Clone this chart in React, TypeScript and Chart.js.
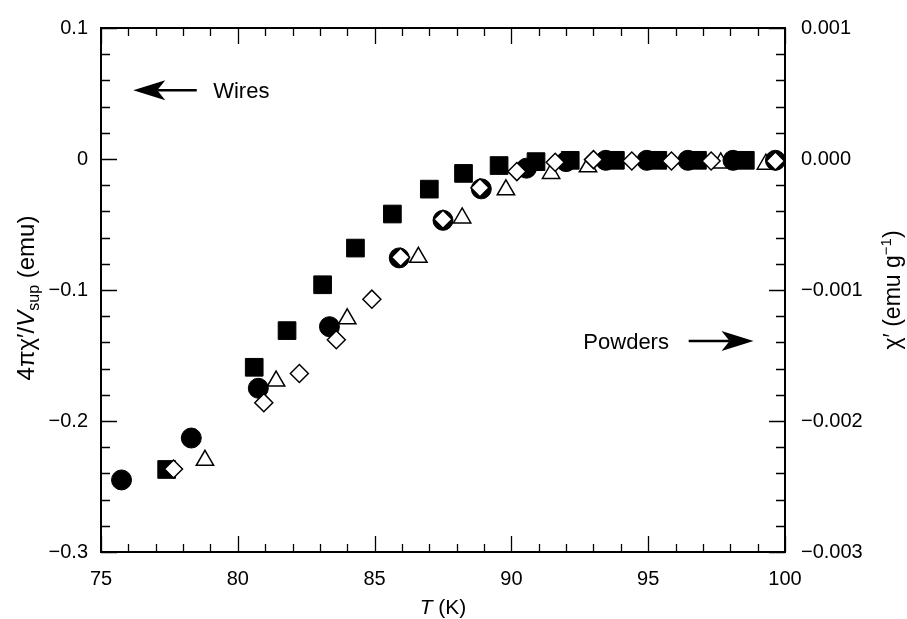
import React, { useEffect, useRef } from "react";
import { Chart, registerables } from "chart.js";

Chart.register(...registerables);

// ---- Data (T in K, 4πχ'/V_sup in emu) ----
const squaresT = [77.4, 80.6, 81.8, 83.1, 84.3, 85.65, 87.0, 88.25, 89.55, 90.9, 92.15, 93.8, 95.35, 96.8, 98.55];
const squaresY = [-0.237, -0.159, -0.131, -0.096, -0.068, -0.042, -0.023, -0.011, -0.005, -0.002, -0.001, -0.001, -0.001, -0.001, -0.001];

const circlesT = [75.75, 78.3, 80.75, 83.35, 85.9, 87.5, 88.9, 90.55, 92.0, 93.45, 94.95, 96.45, 98.1, 99.65];
const circlesY = [-0.245, -0.213, -0.175, -0.128, -0.0755, -0.0468, -0.0228, -0.007, -0.002, -0.001, -0.001, -0.001, -0.001, -0.001];

const diamondsT = [77.65, 80.95, 82.25, 83.6, 84.9, 85.95, 87.5, 88.85, 90.2, 91.6, 93.0, 94.4, 95.85, 97.3, 99.65];
const diamondsY = [-0.2366, -0.186, -0.1637, -0.138, -0.107, -0.075, -0.046, -0.022, -0.0096, -0.0025, -0.0005, -0.0015, -0.0015, -0.0015, -0.0015];

const trianglesT = [78.8, 81.4, 84.0, 86.6, 88.2, 89.8, 91.45, 92.8, 97.65, 99.3];
const trianglesY = [-0.230, -0.1695, -0.122, -0.075, -0.045, -0.0235, -0.011, -0.006, -0.003, -0.004];

// ---- Axes ----
const xTickValues = [75, 80, 85, 90, 95, 100];
const xTickLabels = ["75", "80", "85", "90", "95", "100"];
const yTickValues = [-0.3, -0.2, -0.1, 0, 0.1];
const yTickLabels = ["\u22120.3", "\u22120.2", "\u22120.1", "0", "0.1"];
const y2TickValues = [-0.003, -0.002, -0.001, 0, 0.001];
const y2TickLabels = ["\u22120.003", "\u22120.002", "\u22120.001", "0.000", "0.001"];
const xMinorStep = 1;
const yMinorStep = 0.02;

const FONT = '"Liberation Sans", Arial, Helvetica, sans-serif';

type Run = { text: string; font: string; dy?: number };

function drawRuns(ctx: CanvasRenderingContext2D, runs: Run[], cx: number, cy: number, rot: boolean) {
  ctx.save();
  ctx.translate(cx, cy);
  if (rot) ctx.rotate(-Math.PI / 2);
  let total = 0;
  for (const r of runs) {
    ctx.font = r.font;
    total += ctx.measureText(r.text).width;
  }
  let x = -total / 2;
  ctx.textBaseline = "alphabetic";
  ctx.textAlign = "left";
  ctx.fillStyle = "#000";
  for (const r of runs) {
    ctx.font = r.font;
    ctx.fillText(r.text, x, r.dy || 0);
    x += ctx.measureText(r.text).width;
  }
  ctx.restore();
}

function arrow(ctx: CanvasRenderingContext2D, x0: number, x1: number, y: number) {
  const dir = x1 > x0 ? 1 : -1;
  const headLen = 32;
  const half = 10;
  const notch = 8;
  ctx.save();
  ctx.strokeStyle = "#000";
  ctx.fillStyle = "#000";
  ctx.lineWidth = 2.5;
  ctx.beginPath();
  ctx.moveTo(x0, y);
  ctx.lineTo(x1 - dir * (headLen - notch), y);
  ctx.stroke();
  ctx.beginPath();
  ctx.moveTo(x1, y);
  ctx.lineTo(x1 - dir * headLen, y - half);
  ctx.lineTo(x1 - dir * (headLen - notch), y);
  ctx.lineTo(x1 - dir * headLen, y + half);
  ctx.closePath();
  ctx.fill();
  ctx.restore();
}

const framePlugin = {
  id: "frameTicks",
  beforeDatasetsDraw(chart: any) {
    const { ctx, chartArea: a, scales } = chart;
    const xs = scales.x;
    const ys = scales.y;
    ctx.save();
    ctx.strokeStyle = "#000";
    ctx.lineWidth = 2;
    ctx.strokeRect(a.left, a.top, a.right - a.left, a.bottom - a.top);
    ctx.lineWidth = 1.3;
    ctx.beginPath();
    const xmin = xs.min, xmax = xs.max;
    const nx = Math.round((xmax - xmin) / xMinorStep);
    for (let i = 0; i <= nx; i++) {
      const v = xmin + i * xMinorStep;
      const px = Math.round(xs.getPixelForValue(v)) + 0.5;
      const len = i % 5 === 0 ? 16 : 8;
      ctx.moveTo(px, a.bottom);
      ctx.lineTo(px, a.bottom - len);
      ctx.moveTo(px, a.top);
      ctx.lineTo(px, a.top + len);
    }
    const ymin = ys.min, ymax = ys.max;
    const ny = Math.round((ymax - ymin) / yMinorStep);
    for (let i = 0; i <= ny; i++) {
      const v = ymin + i * yMinorStep;
      const py = Math.round(ys.getPixelForValue(v)) + 0.5;
      const len = i % 5 === 0 ? 16 : 9;
      ctx.moveTo(a.left, py);
      ctx.lineTo(a.left + len, py);
      ctx.moveTo(a.right, py);
      ctx.lineTo(a.right - len, py);
    }
    ctx.stroke();
    ctx.restore();
  },
  afterDraw(chart: any) {
    const { ctx, chartArea: a, scales } = chart;
    const xs = scales.x;
    const ys = scales.y;
    const fL = `24px ${FONT}`;
    const fLi = `italic 24px ${FONT}`;
    const fLs = `16px ${FONT}`;
    const fR = `23px ${FONT}`;
    const fRs = `15px ${FONT}`;
    const fB = `21px ${FONT}`;
    const fBi = `italic 21px ${FONT}`;
    // left title
    drawRuns(
      ctx,
      [
        { text: "4\u03C0\u03C7\u2032/", font: fL },
        { text: "V", font: fLi },
        { text: "sup", font: fLs, dy: 5 },
        { text: " (emu)", font: fL },
      ],
      34,
      (a.top + a.bottom) / 2 + 8,
      true
    );
    // right title
    drawRuns(
      ctx,
      [
        { text: "\u03C7\u2032 (emu g", font: fR },
        { text: "\u22121", font: fRs, dy: -9 },
        { text: ")", font: fR },
      ],
      900,
      (a.top + a.bottom) / 2,
      true
    );
    // bottom title
    drawRuns(
      ctx,
      [
        { text: "T", font: fBi },
        { text: " (K)", font: fB },
      ],
      (a.left + a.right) / 2,
      614,
      false
    );
    // annotations
    ctx.save();
    ctx.fillStyle = "#000";
    ctx.font = `22px ${FONT}`;
    ctx.textBaseline = "alphabetic";
    ctx.textAlign = "left";
    const wy = ys.getPixelForValue(0.0524);
    arrow(ctx, xs.getPixelForValue(78.5), xs.getPixelForValue(76.18), wy);
    ctx.fillText("Wires", xs.getPixelForValue(79.1), wy + 8);
    const py = ys.getPixelForValue(-0.139);
    ctx.fillText("Powders", xs.getPixelForValue(92.63), py + 8);
    arrow(ctx, xs.getPixelForValue(96.48), xs.getPixelForValue(98.85), py);
    ctx.restore();
  },
};

function toPts(t: number[], y: number[]) {
  return t.map((v, i) => ({ x: v, y: y[i] }));
}

export default function App() {
  const ref = useRef<HTMLCanvasElement>(null);
  useEffect(() => {
    document.body.style.margin = "0";
    const canvas = ref.current!;
    const tickFont = { family: FONT, size: 20 };
    const chart = new Chart(canvas, {
      type: "scatter",
      data: {
        datasets: [
          {
            label: "diamonds",
            data: toPts(diamondsT, diamondsY),
            pointStyle: "rectRot",
            pointRadius: 9,
            backgroundColor: "#fff",
            borderColor: "#000",
            borderWidth: 1.5,
            order: 0,
          },
          {
            label: "circles",
            data: toPts(circlesT, circlesY),
            pointStyle: "circle",
            pointRadius: 10,
            backgroundColor: "#000",
            borderColor: "#000",
            borderWidth: 1,
            order: 1,
          },
          {
            label: "squares",
            data: toPts(squaresT, squaresY),
            pointStyle: "rect",
            pointRadius: 12.5,
            backgroundColor: "#000",
            borderColor: "#000",
            borderWidth: 1,
            order: 2,
          },
          {
            label: "triangles",
            data: toPts(trianglesT, trianglesY),
            pointStyle: "triangle",
            pointRadius: 10,
            backgroundColor: "#fff",
            borderColor: "#000",
            borderWidth: 1.5,
            order: 3,
          },
        ],
      },
      options: {
        animation: false,
        responsive: false,
        devicePixelRatio: 1,
        layout: { padding: { top: 25, left: 0, right: 0, bottom: 0 } },
        plugins: { legend: { display: false }, tooltip: { enabled: false } },
        scales: {
          x: {
            type: "linear",
            position: "bottom",
            min: 75,
            max: 100,
            grid: { display: false, drawTicks: false },
            border: { display: false },
            afterBuildTicks: (s: any) => {
              s.ticks = xTickValues.map((v) => ({ value: v }));
            },
            afterFit: (s: any) => {
              s.height = 67;
            },
            ticks: {
              autoSkip: false,
              maxRotation: 0,
              color: "#000",
              font: tickFont,
              padding: 15,
              callback: (_v: any, i: number) => xTickLabels[i],
            },
          },
          y: {
            type: "linear",
            position: "left",
            min: -0.3,
            max: 0.1,
            grid: { display: false, drawTicks: false },
            border: { display: false },
            afterBuildTicks: (s: any) => {
              s.ticks = yTickValues.map((v) => ({ value: v }));
            },
            afterFit: (s: any) => {
              s.width = 101;
            },
            ticks: {
              autoSkip: false,
              color: "#000",
              font: tickFont,
              padding: 13,
              callback: (_v: any, i: number) => yTickLabels[i],
            },
          },
          y2: {
            type: "linear",
            position: "right",
            min: -0.003,
            max: 0.001,
            grid: { display: false, drawTicks: false },
            border: { display: false },
            afterBuildTicks: (s: any) => {
              s.ticks = y2TickValues.map((v) => ({ value: v }));
            },
            afterFit: (s: any) => {
              s.width = 122;
            },
            ticks: {
              autoSkip: false,
              color: "#000",
              font: tickFont,
              padding: 16,
              callback: (_v: any, i: number) => y2TickLabels[i],
            },
          },
        },
      },
      plugins: [framePlugin],
    } as any);
    return () => chart.destroy();
  }, []);
  return (
    <div style={{ width: 907, height: 619, background: "#fff" }}>
      <canvas ref={ref} width={907} height={619} style={{ display: "block" }} />
    </div>
  );
}
